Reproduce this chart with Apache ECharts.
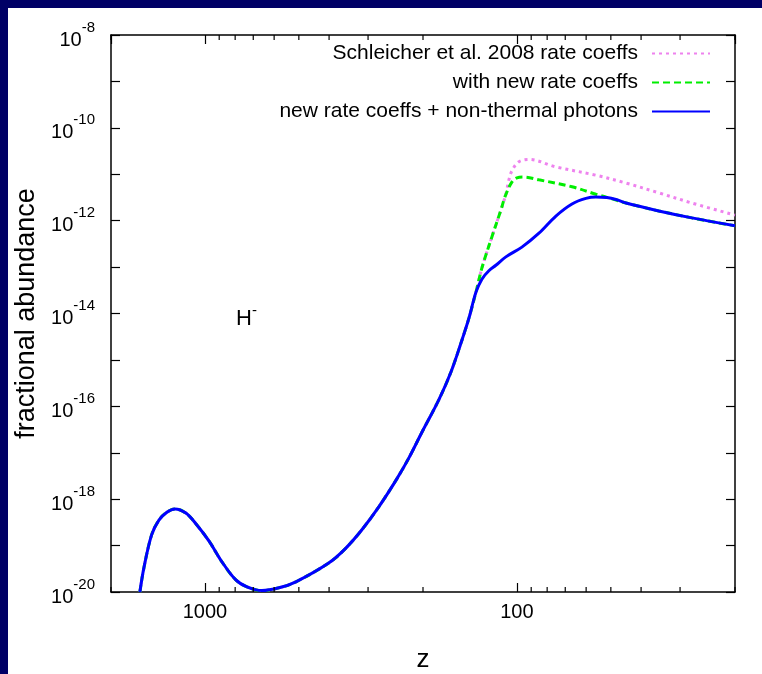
<!DOCTYPE html>
<html><head><meta charset="utf-8">
<script src="https://cdn.jsdelivr.net/npm/echarts@6/dist/echarts.min.js"></script>
<style>html,body{margin:0;padding:0;background:#000066}#c{width:762px;height:674px}</style>
</head><body><div id="c"></div>
<script>
// redshift values (x) and log10 of fractional abundance (y)
const zBlue = [1616, 1569, 1482, 1404, 1324, 1248, 1151, 1069, 971, 882, 796, 733, 657, 579, 511, 400, 354, 314, 276.8, 244, 221.9, 202, 178, 162.7, 150, 142.5, 135.3, 129.5, 123.0, 116.8, 108.5, 96.4, 85.0, 75.0, 66.6, 60.1, 55.8, 51.5, 47.8, 44.7, 35.1, 27.5, 20];
const logBlue = [-20.0, -19.48, -18.77, -18.45, -18.28, -18.21, -18.30, -18.53, -18.90, -19.35, -19.74, -19.89, -19.97, -19.91, -19.78, -19.37, -19.06, -18.66, -18.16, -17.59, -17.11, -16.57, -15.86, -15.26, -14.57, -14.10, -13.54, -13.26, -13.08, -12.96, -12.78, -12.57, -12.27, -11.90, -11.64, -11.52, -11.49, -11.50, -11.55, -11.62, -11.79, -11.94, -12.11];

const zGreen = [1616, 1569, 1482, 1404, 1324, 1248, 1151, 1069, 971, 882, 796, 733, 657, 579, 511, 400, 354, 314, 276.8, 244, 221.9, 202, 178, 162.7, 150, 142.5, 135.3, 129.5, 120.3, 112.8, 108.7, 103.8, 100, 95.0, 85.0, 66.6, 55.8, 49.5, 44.7, 35.1, 27.5, 20];
const logGreen = [-20.0, -19.48, -18.77, -18.45, -18.28, -18.21, -18.30, -18.53, -18.90, -19.35, -19.74, -19.89, -19.97, -19.91, -19.78, -19.37, -19.06, -18.66, -18.16, -17.59, -17.11, -16.57, -15.86, -15.26, -14.57, -14.10, -13.54, -13.02, -12.35, -11.79, -11.45, -11.17, -11.08, -11.06, -11.12, -11.27, -11.43, -11.53, -11.62, -11.79, -11.94, -12.11];

const zPink = [1616, 1569, 1482, 1404, 1324, 1248, 1151, 1069, 971, 882, 796, 733, 657, 579, 511, 400, 354, 314, 276.8, 244, 221.9, 202, 178, 162.7, 150, 142.5, 135.3, 129.5, 120.3, 112.8, 108.7, 106.1, 103.5, 98.5, 91.5, 75.2, 55.9, 44.7, 35.1, 27.5, 20];
const logPink = [-20.0, -19.48, -18.77, -18.45, -18.28, -18.21, -18.30, -18.53, -18.90, -19.35, -19.74, -19.89, -19.97, -19.91, -19.78, -19.37, -19.06, -18.66, -18.16, -17.59, -17.11, -16.57, -15.86, -15.26, -14.57, -14.10, -13.54, -13.02, -12.35, -11.79, -11.45, -11.12, -10.91, -10.73, -10.68, -10.84, -11.02, -11.19, -11.40, -11.62, -11.88];

const seriesNames = ['Schleicher et al. 2008 rate coeffs', 'with new rate coeffs', 'new rate coeffs + non-thermal photons'];
const xLabelValues = [100, 1000];
const xMinorTicks = [20, 30, 40, 50, 60, 70, 80, 90, 200, 300, 400, 500, 600, 700, 800, 900, 2000];
const yRange = [-20, -8];
const xRange = [20, 2000];

const FONT = '"Liberation Sans", Arial, sans-serif';
const zip = (a, b) => a.map((v, i) => [v, b[i]]);

const chart = echarts.init(document.getElementById('c'), null, {renderer: 'canvas'});

const axisLineStyle = {show: true, lineStyle: {color: '#000', width: 1.5}};
const tickStyle = {show: true, inside: true, length: 9, lineStyle: {color: '#000', width: 1.2}};

chart.setOption({
  backgroundColor: '#000066',
  animation: false,
  graphic: [
    {type: 'rect', left: 8, top: 8, shape: {width: 754, height: 666}, style: {fill: '#fff'}, z: -10, silent: true},
    {type: 'text', left: 236, top: 303, z: 10, style: {
      text: '{b|H}{s|-}',
      rich: {b: {fontSize: 22, fontFamily: FONT, fill: '#000', lineHeight: 27, verticalAlign: 'bottom'},
             s: {fontSize: 15, fontFamily: FONT, fill: '#000', lineHeight: 15, verticalAlign: 'top'}}
    }}
  ],
  grid: {left: 111, right: 27, top: 35, bottom: 82, containLabel: false, outerBoundsMode: 'none'},
  legend: {
    data: seriesNames,
    orient: 'vertical',
    align: 'right',
    right: 46,
    top: 38,
    itemWidth: 58,
    itemHeight: 20,
    itemGap: 8,
    itemStyle: {opacity: 0},
    textStyle: {fontFamily: FONT, fontSize: 21, color: '#000', padding: [0, 9, 0, 0]}
  },
  xAxis: [
    {type: 'log', logBase: 10, min: xRange[0], max: xRange[1], inverse: true, position: 'bottom',
     axisLine: axisLineStyle, axisTick: tickStyle, splitLine: {show: false},
     axisLabel: {fontFamily: FONT, fontSize: 20, color: '#000', margin: 10, showMinLabel: false, showMaxLabel: false,
       formatter: v => xLabelValues.includes(Math.round(v)) ? String(Math.round(v)) : ''},
     name: 'z', nameLocation: 'middle', nameGap: 55,
     nameTextStyle: {fontFamily: FONT, fontSize: 26, color: '#000'}},
    {type: 'log', logBase: 10, min: xRange[0], max: xRange[1], inverse: true, position: 'top',
     axisLine: axisLineStyle, axisTick: tickStyle, splitLine: {show: false}, axisLabel: {show: false}}
  ],
  yAxis: [
    {type: 'value', min: yRange[0], max: yRange[1], interval: 1,
     axisLine: axisLineStyle, axisTick: tickStyle, splitLine: {show: false},
     axisLabel: {margin: 16, color: '#000',
       formatter: v => (v % 2 === 0) ? '{b|10}{s|' + v + '}' : '',
       rich: {b: {fontFamily: FONT, fontSize: 20, color: '#000', lineHeight: 30, verticalAlign: 'bottom'},
              s: {fontFamily: FONT, fontSize: 15, color: '#000', lineHeight: 15, verticalAlign: 'top'}}},
     name: 'fractional abundance', nameLocation: 'middle', nameGap: 65, nameRotate: 90,
     nameTextStyle: {fontFamily: FONT, fontSize: 27, color: '#000'}},
    {type: 'value', min: yRange[0], max: yRange[1], interval: 1, position: 'right',
     axisLine: axisLineStyle, axisTick: tickStyle, splitLine: {show: false}, axisLabel: {show: false}}
  ],
  series: [
    {name: seriesNames[0], type: 'line', data: zip(zPink, logPink), smooth: 0.35, showSymbol: false, symbol: 'none',
     lineStyle: {color: '#ee82ee', width: 3, type: [3, 4]}, itemStyle: {color: '#ee82ee'}, z: 2},
    {name: seriesNames[1], type: 'line', data: zip(zGreen, logGreen), smooth: 0.35, showSymbol: false, symbol: 'none',
     lineStyle: {color: '#00ee00', width: 3, type: [7, 4]}, itemStyle: {color: '#00ee00'}, z: 3},
    {name: seriesNames[2], type: 'line', data: zip(zBlue, logBlue), smooth: 0.35, showSymbol: false, symbol: 'none',
     lineStyle: {color: '#0000ff', width: 3}, itemStyle: {color: '#0000ff'}, z: 4},
    {type: 'custom', silent: true, z: 5, data: xMinorTicks.map(v => [v]),
     renderItem: (params, api) => {
       const x = api.value(0);
       const b = api.coord([x, yRange[0]]);
       const t = api.coord([x, yRange[1]]);
       const s = {stroke: '#000', lineWidth: 1.2};
       return {type: 'group', children: [
         {type: 'line', shape: {x1: b[0], y1: b[1], x2: b[0], y2: b[1] - 5}, style: s},
         {type: 'line', shape: {x1: t[0], y1: t[1], x2: t[0], y2: t[1] + 5}, style: s}
       ]};
     }}
  ]
});
</script></body></html>
